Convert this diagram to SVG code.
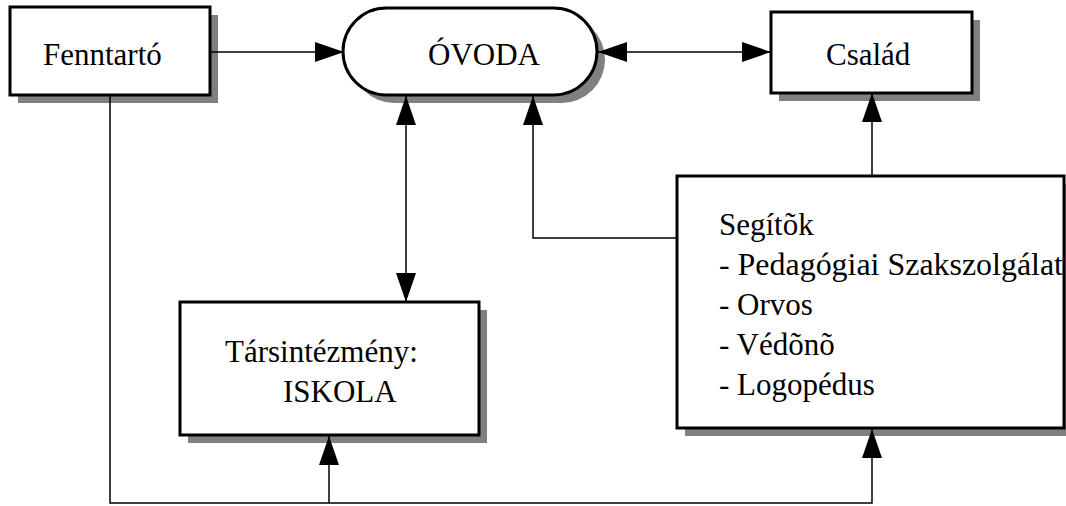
<svg xmlns="http://www.w3.org/2000/svg" width="1066" height="506" viewBox="0 0 1066 506">
<defs>
<marker id="arr" markerUnits="userSpaceOnUse" markerWidth="30" markerHeight="22" viewBox="0 0 30 22" refX="29" refY="11" orient="auto-start-reverse">
<path d="M0,1 L29,11 L0,21 z" fill="#000"/>
</marker>
<style>
.box{fill:#fff;stroke:#000;stroke-width:3}
.sh{fill:#808080}
text{font-family:'Liberation Serif','DejaVu Serif',serif;font-size:31px;fill:#000}
.c{fill:none;stroke:#000;stroke-width:1.5}
</style>
</defs>
<rect width="1066" height="506" fill="#fff"/>
<g id="fenntarto">
<rect class="sh" x="18" y="15" width="200" height="88"/>
<rect class="box" x="10" y="7" width="200" height="88"/>
<text x="43" y="65">Fenntartó</text>
</g>
<g id="ovoda">
<rect class="sh" x="351" y="16" width="254" height="87" rx="43.5"/>
<rect class="box" x="343" y="8" width="254" height="87" rx="43.5"/>
<text x="428" y="65">ÓVODA</text>
</g>
<g id="csalad">
<rect class="sh" x="779" y="20" width="201" height="81"/>
<rect class="box" x="771" y="12" width="201" height="81"/>
<text x="826" y="65">Család</text>
</g>
<g id="iskola">
<rect class="sh" x="188" y="310" width="299" height="133"/>
<rect class="box" x="180" y="302" width="299" height="133"/>
<text x="225" y="362">Társintézmény:</text>
<text x="283" y="402">ISKOLA</text>
</g>
<g id="segitok">
<rect class="sh" x="685" y="184" width="387" height="252"/>
<rect class="box" x="677" y="176" width="387" height="252"/>
<text x="719" y="235">Segítõk</text>
<text x="719" y="275" textLength="344" lengthAdjust="spacingAndGlyphs">- Pedagógiai Szakszolgálat</text>
<text x="719" y="315">- Orvos</text>
<text x="719" y="355">- Védõnõ</text>
<text x="719" y="395">- Logopédus</text>
</g>
<g id="connectors">
<path class="c" d="M210,52 H344" marker-end="url(#arr)"/>
<path class="c" d="M598,52 H771" marker-start="url(#arr)" marker-end="url(#arr)"/>
<path class="c" d="M406,96 V302" marker-start="url(#arr)" marker-end="url(#arr)"/>
<path class="c" d="M677,238 H533 V96" marker-end="url(#arr)"/>
<path class="c" d="M872,176 V93" marker-end="url(#arr)"/>
<path class="c" d="M110,95 V503 H872 V429" marker-end="url(#arr)"/>
<path class="c" d="M329,503 V436" marker-end="url(#arr)"/>
</g>
</svg>
